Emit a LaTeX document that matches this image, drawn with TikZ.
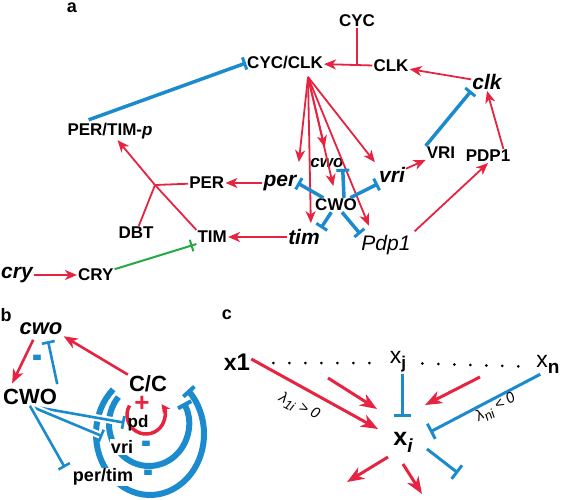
\documentclass[tikz,border=0pt]{standalone}
\usepackage{fontspec}
\setmainfont{Liberation Sans}
\usepackage{tikz}
\usetikzlibrary{arrows.meta, positioning, decorations.markings}
\usepackage{xcolor}
\definecolor{actred}{RGB}{230,36,66}
\definecolor{inhblue}{RGB}{28,139,206}
\definecolor{posgreen}{RGB}{38,168,68}

\begin{document}
\begin{tikzpicture}[x=1pt, y=-1pt, font=\bfseries,
    every node/.style={inner sep=1pt},
    lbl/.style={font=\fontsize{18}{18}\selectfont\bfseries},
    prot/.style={font=\fontsize{17}{17}\selectfont\bfseries},
    gene/.style={font=\fontsize{21}{21}\selectfont\bfseries\itshape},
    genelt/.style={font=\fontsize{21}{21}\selectfont\itshape},
    genesm/.style={font=\fontsize{17}{17}\selectfont\bfseries\itshape},
    bprot/.style={font=\fontsize{22}{22}\selectfont\bfseries},
    sprot/.style={font=\fontsize{17}{17}\selectfont\bfseries},
    sign/.style={font=\fontsize{30}{30}\selectfont\bfseries, inner sep=0pt},
    lam/.style={font=\fontsize{15}{15}\selectfont\mdseries\itshape},
    act/.style={draw=actred, line width=1.8pt, -{Stealth[length=12pt,width=10pt,inset=3.5pt]}},
    link/.style={draw=actred, line width=1.8pt},
    inh/.style={draw=inhblue, line width=3.5pt, -{Bar[width=13pt,line width=3pt]}},
    posi/.style={draw=posgreen, line width=2pt,
        decoration={markings, mark=at position -5pt with {\draw[posgreen, line width=2pt] (0,-6pt) -- (0,6pt);}},
        postaction={decorate}},
    actb/.style={draw=actred, line width=2.6pt, -{Stealth[length=14pt,width=11pt,inset=4pt]}},
    inhb/.style={draw=inhblue, line width=2.6pt, -{Bar[width=13pt,line width=2.6pt]}},
    halo/.style={preaction={draw=white, line width=7pt, -}},
    loopneg/.style={draw=inhblue, line width=6pt, -{Bar[width=15pt,line width=4pt]}},
    looppos/.style={draw=actred, line width=3.5pt, -{Stealth[length=9pt,width=9pt,inset=3pt]}},
    actc/.style={draw=actred, line width=3pt, -{Stealth[length=17pt,width=13pt,inset=5pt]}},
    inhc/.style={draw=inhblue, line width=3pt, -{Bar[width=17pt,line width=3pt]}},
    dots/.style={draw=black, line width=3pt, line cap=round, dash pattern=on 0pt off 16pt}]

\useasboundingbox (0,0) rectangle (562,499);

% ---- a ----
\node[lbl] (la) at (72,8) {a};
\node[prot] (cyc) at (357,21) {CYC};
\node[prot] (cycclk) at (285,63) {CYC/CLK};
\node[prot] (CLK) at (391,66) {CLK};
\node[gene] (clk) at (487,82) {clk};
\node[prot] (pertimp) at (110,131) {PER/TIM-\textit{p}};
\node[prot] (VRI) at (441,153) {VRI};
\node[prot] (PDP1) at (488,156) {PDP1};
\node[gene] (per) at (280,183) {per};
\node[prot, left=37pt of per] (PER) {PER};
\node[genesm] (cwo) at (327,163) {cwo};
\node[gene] (vri) at (392,175) {vri};
\node[prot] (CWO) at (336,205) {CWO};
\node[prot] (DBT) at (136,233) {DBT};
\node[gene] (tim) at (304,237) {tim};
\node[prot, left=59pt of tim] (TIM) {TIM};
\node[genelt] (Pdp1) at (386,245) {Pdp1};
\node[gene] (cry) at (17,275) {cry};
\node[prot, right=43pt of cry] (CRY) {CRY};

\coordinate (cj) at (357,64);
\coordinate (fan) at (308,77);
\coordinate (pj) at (155,185);

\draw[act] (CLK) -- (cycclk);
\draw[link] (cyc) -- (cj);
\draw[act] (clk) -- (CLK);
\draw[inh] (VRI.north west) -- (clk.south west);
\draw[act] ([xshift=-8pt]PDP1.north east) -- (clk.south);
\draw[inh, shorten <=6pt] ([xshift=-27pt]pertimp.north) -- (cycclk.west);

% fan out of CYC/CLK
\draw[act, shorten >=12pt] (fan) -- (per.north east);
\draw[act, shorten >=5pt] (fan) -- ([xshift=-10pt]tim.north east);
\draw[act, shorten >=10pt] (fan) -- (cwo.north);
\draw[act, shorten >=12pt] (fan) -- (CWO.north);
\draw[act, shorten >=9pt] (fan) -- ([xshift=12pt]Pdp1.north west);
\draw[act, shorten >=5pt] (fan) -- (vri.north west);

% CWO represses
\draw[inh] (CWO) -- (per.east);
\draw[inh] ([xshift=8pt]CWO.north) -- ([xshift=-2pt]cwo.south east);
\draw[inh] (CWO) -- (vri.south west);
\draw[inh] (CWO) -- (tim.north east);
\draw[inh] (CWO) -- (Pdp1.north west);

\draw[act] (vri) -- (VRI);
\draw[act, shorten <=4pt] (Pdp1.north east) -- (PDP1.south);
\draw[act] (per) -- (PER);
\draw[act] (tim) -- (TIM);
\draw[act] (cry) -- (CRY);
\draw[link] (PER) -- (pj);
\draw[link] (DBT) -- (pj);
\draw[act] (TIM.north west) -- (pj) -- (pertimp);
\draw[posi] (CRY) -- (TIM.south west);

% ---- b ----
\node[lbl] (lb) at (6,315) {b};
\node[gene, font=\fontsize{22}{22}\selectfont\bfseries\itshape] (cwoB) at (41,329) {cwo};
\node[bprot] (CWOB) at (30,397) {CWO};
\node[bprot] (CC) at (148,384) {C/C};

\coordinate (oc) at (150,434);
\coordinate (mc) at (149,424);
\coordinate (rc) at (146,415);
\draw[loopneg] (oc) ++(133:54pt and 61pt) arc[start angle=133, end angle=406, x radius=54pt, y radius=61pt];
\draw[loopneg] (mc) ++(140:40pt and 42pt) arc[start angle=140, end angle=390, x radius=40pt, y radius=42pt];
\draw[looppos] (rc) ++(150:19pt) arc[start angle=150, end angle=395, radius=19pt];

\node[sprot] (pd) at (138,423) {pd};
\node[sprot, font=\fontsize{18}{18}\selectfont\bfseries, fill=white] (vriB) at (122,447) {vri};
\node[sprot, font=\fontsize{18}{18}\selectfont\bfseries, fill=white] (pertim) at (103,477) {per/tim};

\draw[actb] (CC.north west) -- (cwoB.south east);
\draw[actb, shorten <=4pt, shorten >=5pt] ([xshift=-6pt]cwoB.south) -- ([xshift=8pt]CWOB.north west);
\draw[inhb, shorten <=4pt, shorten >=5pt] (CWOB.north east) -- ([xshift=6pt]cwoB.south);
\draw[inhb, halo, shorten >=2pt] (CWOB.south) -- (pd.west);
\draw[inhb, halo, shorten >=8pt] (CWOB.south) -- (vriB.north west);
\draw[inhb, halo] (CWOB.south) -- ([xshift=-7pt]pertim.north west);

\node[sign, text=inhblue] (m1) at (37,362) {\scalebox{1}[1.5]{-}};
\node[sign, text=inhblue] (m2) at (146,448) {\scalebox{1}[1.5]{-}};
\node[sign, text=inhblue] (m3) at (148,477) {\scalebox{1}[1.5]{-}};
\node[sign, font=\fontsize{26}{26}\selectfont\bfseries, text=actred] (p1) at (142,404) {+};

% ---- c ----
\node[lbl] (lc) at (227,315) {c};
\node (x1) at (237,362) {\fontsize{23}{23}\selectfont x\fontsize{24}{24}\selectfont 1};
\node (xj) at (398,362) {\fontsize{23}{23}\selectfont\mdseries x\raisebox{-5pt}{\fontsize{17}{17}\selectfont\bfseries j}};
\node (xn) at (548,364) {\fontsize{23}{23}\selectfont\mdseries x\raisebox{-6pt}{\fontsize{19}{19}\selectfont\bfseries n}};
\node (xi) at (403,442) {\fontsize{25}{25}\selectfont x\raisebox{-7pt}{\fontsize{19}{19}\selectfont\itshape i}};

\draw[dots, shorten <=22pt, shorten >=14pt] ([yshift=-1pt]x1.east) -- ([yshift=-1pt]xj.west);
\draw[dots, shorten <=15pt, shorten >=12pt] ([yshift=-1pt]xj.east) -- ([yshift=-3pt]xn.west);

\coordinate (in2) at (328,378);
\coordinate (in4) at (480,377);
\coordinate (out1) at (347,482);
\coordinate (out2) at (422,494);
\coordinate (out3) at (458,473);

\draw[actc] ([yshift=3pt]x1.east) -- ([shift={(-25,-13)}]xi.center);
\draw[actc] (in2) -- ([shift={(-26,-33)}]xi.center);
\draw[inhc] ([xshift=4pt]xj.south) -- ([shift={(-1,-25)}]xi.center);
\draw[actc] (in4) -- ([shift={(22,-37)}]xi.center);
\draw[inhc] ([xshift=5pt]xn.south west) -- ([shift={(27,-10)}]xi.center);
\draw[actc] ([shift={(-15,15)}]xi.center) -- (out1);
\draw[actc] ([shift={(0,22)}]xi.center) -- (out2);
\draw[inhc] ([shift={(24,7)}]xi.center) -- (out3);

\node[lam, rotate=-27] (l1) at (299,407) {λ\textsubscript{\fontsize{13}{13}\selectfont 1i} > 0};
\node[lam, rotate=30] (ln) at (496,408) {λ\textsubscript{\fontsize{13}{13}\selectfont ni} < 0};
\end{tikzpicture}
\end{document}
